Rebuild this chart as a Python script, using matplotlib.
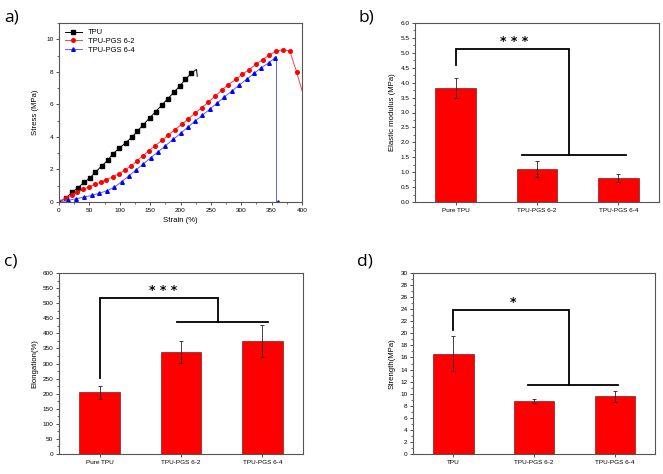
import numpy as np
import matplotlib
matplotlib.use('Agg')
import matplotlib.pyplot as plt
from matplotlib.ticker import MultipleLocator

plt.rcParams['font.family'] = ['Liberation Sans', 'DejaVu Sans']

# ---------------- data ----------------
# a) stress-strain curves
tpu_x = [0, 12, 22, 31, 41, 51, 60, 70, 80, 89, 99, 110, 120, 129, 139, 149, 159, 169,
         179, 189, 199, 208, 218, 226.5, 227.5]
tpu_y = [0, 0.27, 0.6, 0.87, 1.2, 1.48, 1.84, 2.2, 2.56, 2.97, 3.3, 3.65, 3.98, 4.35, 4.76,
         5.15, 5.55, 5.94, 6.35, 6.73, 7.14, 7.53, 7.92, 8.15, 7.72]

pgs62_x = [0, 12, 21, 30, 40, 49, 59, 69, 78, 89, 99, 109, 119, 128, 138, 148, 158, 169,
           180, 191, 202, 213, 224, 235, 246, 257, 268, 279, 291, 302, 313, 324, 335, 346,
           358, 369, 380, 391, 400]
pgs62_y = [0, 0.25, 0.43, 0.6, 0.77, 0.93, 1.08, 1.22, 1.37, 1.55, 1.75, 1.98, 2.23, 2.5,
           2.85, 3.15, 3.45, 3.78, 4.12, 4.45, 4.78, 5.12, 5.45, 5.8, 6.15, 6.5, 6.87, 7.22,
           7.53, 7.85, 8.14, 8.45, 8.75, 9.04, 9.26, 9.37, 9.28, 8.0, 6.85]

pgs64_x = [0, 15, 28, 41, 54, 66, 79, 91, 103, 115, 127, 139, 151, 163, 175, 188, 200, 212,
           224, 236, 248, 260, 272, 284, 296, 309, 321, 333, 345, 355, 358, 358, 360]
pgs64_y = [0, 0.1, 0.2, 0.3, 0.41, 0.53, 0.7, 0.9, 1.25, 1.6, 1.98, 2.35, 2.72, 3.08, 3.45,
           3.85, 4.22, 4.6, 4.97, 5.33, 5.7, 6.07, 6.45, 6.8, 7.17, 7.55, 7.9, 8.25, 8.55,
           8.85, 8.95, 0, 0.03]

# b), c), d) bar charts
names_bc = ['Pure TPU', 'TPU-PGS 6-2', 'TPU-PGS 6-4']
names_d = ['TPU', 'TPU-PGS 6-2', 'TPU-PGS 6-4']

modulus = [3.83, 1.12, 0.81]
modulus_err = [0.34, 0.27, 0.13]

elongation = [204, 337, 374]
elongation_err = [22, 36, 52]

strength = [16.6, 8.75, 9.6]
strength_err = [2.9, 0.3, 0.9]

W, H = 663, 474
fig = plt.figure(figsize=(W / 100, H / 100), dpi=100)


def box(l, t, r, b):
    return [l / W, 1 - b / H, (r - l) / W, (b - t) / H]


def style(ax):
    for s in ax.spines.values():
        s.set_color('#555555')
        s.set_linewidth(0.8)
    ax.tick_params(which='both', direction='out', labelsize=4.6, color='#333333',
                   top=False, right=False, pad=1.5)
    ax.tick_params(which='major', length=2.5, width=0.6)
    ax.tick_params(which='minor', length=1.5, width=0.5)


# ---------------- a) ----------------
ax = fig.add_axes(box(59, 23, 302, 202))
ax.plot(tpu_x, tpu_y, color='black', lw=0.7, marker='s', ms=2.3,
        markevery=list(range(len(tpu_x) - 2)), label='TPU')
ax.plot(pgs62_x, pgs62_y, color='#ff4040', lw=0.7, marker='o', ms=2.6,
        mfc='red', mec='red', markevery=list(range(len(pgs62_x) - 1)), label='TPU-PGS 6-2')
ax.plot(pgs64_x, pgs64_y, color='#6060ff', lw=0.7, marker='^', ms=2.6,
        mfc='blue', mec='blue', markevery=list(range(len(pgs64_x) - 3)) + [len(pgs64_x) - 1],
        label='TPU-PGS 6-4')
ax.set_xlim(0, 400)
ax.set_ylim(0, 11)
ax.xaxis.set_major_locator(MultipleLocator(50))
ax.xaxis.set_minor_locator(MultipleLocator(25))
ax.yaxis.set_major_locator(MultipleLocator(2))
ax.yaxis.set_minor_locator(MultipleLocator(1))
ax.set_xlabel('Strain (%)', fontsize=5.6, labelpad=3)
ax.set_ylabel('Stress (MPa)', fontsize=5.6, labelpad=5)
style(ax)
ax.legend(loc='upper left', frameon=False, fontsize=5.4, handlelength=2.2,
          borderaxespad=0.4, labelspacing=0.2)


# ---------------- bar panels ----------------
def bar_panel(rect, names, vals, errs, ylim, major, minor, ylabel,
              left_top, right_x, right_y, base, stars, star_xy):
    ax = fig.add_axes(rect)
    x = np.arange(1, len(vals) + 1)
    ax.bar(x, vals, width=0.5, color='#ff0000', edgecolor='#7a2020', linewidth=0.5,
           yerr=errs, error_kw=dict(ecolor='#222222', elinewidth=0.6, capsize=1.5,
                                    capthick=0.6))
    ax.set_xlim(0.5, 3.5)
    ax.set_ylim(*ylim)
    ax.set_xticks(x)
    ax.set_xticklabels(names)
    ax.yaxis.set_major_locator(MultipleLocator(major))
    ax.yaxis.set_minor_locator(MultipleLocator(minor))
    ax.set_ylabel(ylabel, fontsize=5.6, labelpad=3)
    style(ax)
    # significance bracket
    ax.plot([1, 1, right_x, right_x], [left_top[0], left_top[1], left_top[1], right_y],
            color='black', lw=1.3, solid_joinstyle='miter')
    ax.plot(base[:2], [right_y, right_y], color='black', lw=1.3)
    ax.text(star_xy[0], star_xy[1], stars, ha='center', va='center', fontsize=9,
            fontweight='bold', family=['DejaVu Sans'])
    return ax


bar_panel(box(415, 23, 659, 202), names_bc, modulus, modulus_err, (0, 6), 0.5, 0.25,
          'Elastic modulus (MPa)', (4.59, 5.12), 2.39, 1.58, (1.82, 3.09),
          '* * *', (1.72, 5.37))

bar_panel(box(59, 273, 303, 454), names_bc, elongation, elongation_err, (0, 600), 50, 25,
          'Elongation(%)', (252, 518), 2.46, 436, (1.95, 3.07),
          '* * *', (1.78, 541))

bar_panel(box(413, 273, 655, 454), names_d, strength, strength_err, (0, 30), 2, 1,
          'Strength(MPa)', (20.5, 23.9), 2.44, 11.4, (1.93, 3.04),
          '*', (1.74, 25.1))

# panel letters
for lab, px, py in [('a)', 4, 18), ('b)', 358, 18), ('c)', 4, 262), ('d)', 357, 262)]:
    fig.text(px / W, 1 - py / H, lab, fontsize=12.5, ha='left', va='center',
             family=['Open Sans', 'DejaVu Sans'])

fig.savefig('out.png', dpi=100, facecolor='white')
